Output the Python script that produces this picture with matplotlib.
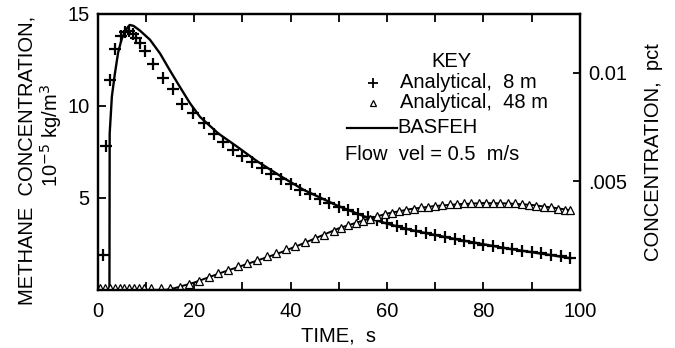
import matplotlib
matplotlib.use("Agg")
import matplotlib.pyplot as plt

plt.rcParams['font.family'] = ['Liberation Sans', 'DejaVu Sans']

# analytical solution at 8 m (plus markers)
t_8m = [1.1, 1.7, 2.5, 3.5, 4.7, 5.6, 6.4, 7.2, 8.0, 8.7, 9.8, 11.5, 13.5, 15.6, 17.4, 19.8,
        22, 24, 26, 28, 30, 32, 34, 36, 38, 40, 42, 44, 46, 48, 50, 52, 54, 56, 58, 60,
        62, 64, 66, 68, 70, 72, 74, 76, 78, 80, 82, 84, 86, 88, 90, 92, 94, 96, 98]
c_8m = [1.9, 7.8, 11.4, 13.1, 13.8, 14.0, 14.05, 13.9, 13.7, 13.4, 13.0, 12.3, 11.5, 10.9, 10.1, 9.6,
        9.05, 8.5, 8.05, 7.6, 7.3, 6.95, 6.6, 6.3, 6.0, 5.75, 5.45, 5.2, 4.95, 4.72, 4.52, 4.33, 4.13, 3.95, 3.8, 3.62,
        3.48, 3.33, 3.2, 3.07, 2.96, 2.85, 2.75, 2.65, 2.55, 2.46, 2.37, 2.29, 2.21, 2.14, 2.06, 1.98, 1.91, 1.83, 1.76]

# analytical solution at 48 m (triangles)
t_48m = [0.5, 1.5, 2.5, 3.5, 4.5, 5.5, 6.5, 7.5, 8.5, 9.5,
         11, 13, 15, 17, 19, 21, 23, 25, 27, 29, 31, 33, 35, 37, 39, 41, 43, 45, 47, 49,
         50.5, 52, 53.5, 55, 56.5, 58, 59.5, 61, 62.5, 64, 65.5, 67, 68.5, 70, 71.5, 73, 74.5,
         76, 77.5, 79, 80.5, 82, 83.5, 85, 86.5, 88, 89.5, 91, 92.5, 94, 95.5, 97, 98]
c_48m = [0.1, 0.1, 0.1, 0.1, 0.1, 0.1, 0.1, 0.1, 0.1, 0.1,
         0.1, 0.1, 0.1, 0.15, 0.3, 0.5, 0.7, 0.9, 1.1, 1.3, 1.45, 1.65, 1.85, 2.0, 2.2, 2.4, 2.6, 2.8, 3.0, 3.2,
         3.35, 3.5, 3.65, 3.75, 3.88, 4.0, 4.1, 4.2, 4.28, 4.35, 4.42, 4.48, 4.53, 4.58, 4.62, 4.65, 4.68,
         4.7, 4.72, 4.73, 4.74, 4.74, 4.73, 4.72, 4.7, 4.67, 4.63, 4.58, 4.53, 4.48, 4.42, 4.36, 4.32]

# BASFEH model curves
tb_8m = [0, 2.4, 2.45, 2.9, 3.5, 4.2, 4.9, 5.7, 6.6, 7.4, 8.7, 10.8, 12.9, 14.9, 17, 19.1, 21.2,
         25, 28.8, 33, 37.8, 42.6, 49.5, 55.7, 60, 65, 70, 75, 80, 85, 90, 95, 98]
cb_8m = [0, 0, 8.5, 10.5, 11.7, 12.9, 13.6, 14.1, 14.4, 14.35, 14.1, 13.6, 12.85, 11.95, 11.04, 10.15, 9.4,
         8.5, 7.8, 7.0, 6.2, 5.45, 4.6, 3.95, 3.6, 3.25, 2.98, 2.72, 2.48, 2.25, 2.05, 1.85, 1.72]
tb_48m = [0, 14, 16, 20, 26, 32, 38, 42.3, 50, 56, 60, 65, 70, 75, 80, 85, 90, 95, 98]
cb_48m = [0, 0, 0.1, 0.4, 0.97, 1.5, 2.04, 2.49, 3.35, 3.85, 4.15, 4.4, 4.56, 4.66, 4.72, 4.7, 4.62, 4.45, 4.33]

x_ticks = [0, 20, 40, 60, 80, 100]
y_ticks = [5, 10, 15]
pct_ticks = [0.005, 0.01]
pct_labels = ['.005', '0.01']

fs = 14.5
fig = plt.figure(figsize=(6.75, 3.48), dpi=100)
ax = fig.add_axes([0.145, 0.167, 0.714, 0.793])

ax.plot(tb_8m, cb_8m, color='black', lw=1.7)
ax.plot(tb_48m, cb_48m, color='black', lw=1.4)
ax.plot(t_8m, c_8m, '+', color='black', ms=8, mew=1.6)
ax.plot(t_48m, c_48m, '^', color='black', mfc='white', ms=5.5, mew=0.9)

ax.set_xlim(0, 100)
ax.set_ylim(0, 15)
ax.set_xticks(x_ticks)
ax.set_xticks(range(10, 100, 20), minor=True)
ax.set_yticks(y_ticks)
ax.tick_params(direction='in', length=6, width=1.3, labelsize=fs, top=True, pad=9)
ax.tick_params(which='minor', direction='in', length=6, width=1.3, top=True)
ax.tick_params(axis='y', pad=6)
for s in ax.spines.values():
    s.set_linewidth(1.6)

ax.set_xlabel('TIME,  s', fontsize=fs, labelpad=4)
fig.text(0.04, 0.54, 'METHANE  CONCENTRATION,', rotation=90, fontsize=fs,
         ha='center', va='center')
fig.text(0.075, 0.61, r'10$^{-5}$ kg/m$^3$', rotation=90, fontsize=fs,
         ha='center', va='center')

ax2 = ax.twinx()
ax2.set_ylim(0, 0.0127)
ax2.set_yticks(pct_ticks)
ax2.set_yticklabels(pct_labels)
ax2.tick_params(direction='in', length=5, width=1.3, labelsize=fs, pad=6)
ax2.set_ylabel('CONCENTRATION,  pct', fontsize=fs, labelpad=12)
for s in ax2.spines.values():
    s.set_linewidth(1.6)

# key
tr = ax.transAxes
ax.text(0.734, 0.826, 'KEY', transform=tr, fontsize=fs, ha='center', va='center')
ax.plot([0.571], [0.75], '+', color='black', ms=7, mew=1.3, transform=tr)
ax.text(0.627, 0.75, 'Analytical,  8 m', transform=tr, fontsize=fs, va='center')
ax.plot([0.571], [0.678], '^', color='black', mfc='white', ms=5, mew=0.9, transform=tr)
ax.text(0.627, 0.678, 'Analytical,  48 m', transform=tr, fontsize=fs, va='center')
ax.plot([0.517, 0.620], [0.587, 0.587], color='black', lw=1.6, transform=tr)
ax.text(0.622, 0.587, 'BASFEH', transform=tr, fontsize=fs, va='center')
ax.text(0.512, 0.489, 'Flow  vel = 0.5  m/s', transform=tr, fontsize=fs, va='center')

fig.savefig('out.png', dpi=100)
